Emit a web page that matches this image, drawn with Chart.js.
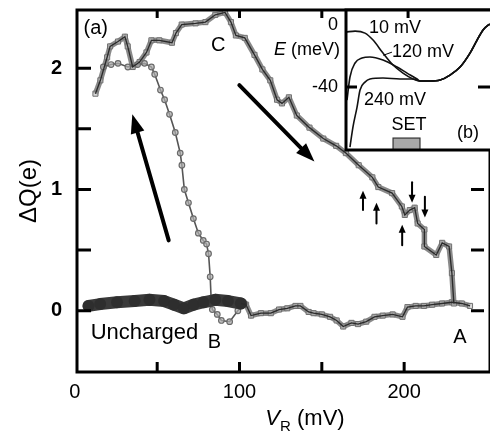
<!DOCTYPE html>
<html><head><meta charset="utf-8">
<script src="https://cdn.jsdelivr.net/npm/chart.js@4.4.1/dist/chart.umd.min.js"></script>
<style>
body{margin:0;background:#fff}
#wrap{position:relative;width:490px;height:434px;overflow:hidden}
canvas{position:absolute}
#main{left:0;top:0}
#inset{left:260px;top:0}
</style></head>
<body><div id="wrap"><canvas id="main" width="490" height="434"></canvas><canvas id="inset" width="230" height="160"></canvas></div>
<script>
const F = '"Liberation Sans", Arial, Helvetica, sans-serif';

// ---------- main panel (a) data ----------
const xTickLabels = [0, 100, 200];
const xTickMarks = [50, 100, 150, 200];
const yTickLabels = [0, 1, 2];
const yTickMarks = [0, 0.5, 1, 1.5, 2];

// uncharged trace (dark)
const unchargedV = [8.3, 15.4, 25.6, 36.3, 45.3, 54.2, 60.2, 66.2, 72.1, 78.1, 85.3, 93.0, 100.8];
const unchargedQ = [0.04, 0.055, 0.07, 0.08, 0.09, 0.08, 0.05, 0.02, 0.05, 0.07, 0.09, 0.08, 0.06];

// baseline continued (gray squares) up to A
const baseV = [101, 104, 107, 113, 119, 124, 129, 134, 137, 142, 145, 150, 155, 159, 163, 168, 172, 177, 182, 187, 193, 199, 202, 207, 212, 217, 223, 229, 235, 240];
const baseQ = [0.06, 0.05, -0.04, -0.02, -0.02, 0.01, 0.02, 0.04, 0.04, -0.01, -0.02, -0.03, -0.05, -0.08, -0.13, -0.10, -0.11, -0.09, -0.05, -0.04, -0.03, -0.05, 0.03, 0.04, 0.04, 0.05, 0.06, 0.07, 0.06, 0.04];

// charging branch A -> C -> left end (squares)
const branchV = [12.5, 15.5, 19.6, 21.4, 26.2, 30.4, 32.1, 35.1, 39.3, 43.5, 46.5, 51.3, 59.0, 61.4, 64.9, 73.3, 79.3, 85.3, 91.2, 94.8, 97.8, 103.2, 109.1, 113.9, 118.7, 122.8, 125.8, 130.0, 134.8, 142.5, 150.9, 158.7, 164.6, 172.4, 180.7, 184.3, 192.7, 198.6, 200.4, 203.4, 206.4, 208.2, 212.3, 212.3, 219.5, 223.1, 227.3, 229.0, 230.2];
const branchQ = [1.79, 1.90, 2.09, 2.18, 2.22, 2.26, 2.18, 2.01, 2.05, 2.13, 2.23, 2.23, 2.21, 2.29, 2.36, 2.37, 2.38, 2.44, 2.46, 2.38, 2.27, 2.25, 2.11, 1.99, 1.90, 1.74, 1.71, 1.76, 1.61, 1.51, 1.42, 1.36, 1.30, 1.20, 1.10, 1.02, 0.97, 0.86, 0.79, 0.83, 0.85, 0.72, 0.67, 0.53, 0.46, 0.56, 0.53, 0.31, 0.06];

// return branch (circles) down to B
const returnV = [17.3, 22, 26.2, 32.2, 38.1, 42.3, 46.5, 48.5, 52, 54.5, 57.5, 61, 64, 65, 66.5, 69, 72, 75, 78, 80, 81.2, 82.2, 82.8, 83.5, 86.5, 89.0, 94.0, 99.0, 103.0];
const returnQ = [2.01, 2.03, 2.04, 2.01, 2.03, 2.04, 2.01, 1.95, 1.82, 1.74, 1.62, 1.47, 1.30, 1.20, 1.00, 0.89, 0.76, 0.64, 0.58, 0.55, 0.47, 0.28, 0.09, 0.01, -0.03, -0.08, -0.09, 0.00, 0.06];

// annotations (data coordinates)
const labelTexts = ['(a)', 'C', 'B', 'A', 'Uncharged'];
const labelV = [12.7, 87.0, 84.8, 233.8, 42.3];
const labelQ = [2.33, 2.19, -0.26, -0.22, -0.18];
const bigArrows = [[57.0, 0.58, 34.9, 1.62], [99.9, 1.86, 145.5, 1.23]];
const smallArrows = [[175.0, 0.83, 175.0, 0.99], [183.2, 0.72, 183.2, 0.89], [198.8, 0.54, 198.8, 0.71], [204.8, 1.06, 204.8, 0.89], [212.6, 0.94, 212.6, 0.77]];

// ---------- inset (b) data ----------
const insetTickLabels = [0, -40];
const insetRightU = [67.7, 75.8, 83.8, 91.9, 99.9, 105.6, 110.4, 114.5, 116];
const insetRightE = [-36.1, -35.5, -32.3, -27.1, -18.1, -9.7, -3.2, 0, 0.5];
const curve10U = [0, 7.3, 15.3, 21.8, 29.8, 37.9, 45.9, 54.0, 59.6];
const curve10E = [-4.5, -3.9, -5.2, -9.7, -18.1, -25.8, -31.0, -34.8, -36.1];
const curve120U = [0.8, 3.2, 7.3, 12.9, 19.3, 29.8, 41.1, 49.2, 57.2, 59.6];
const curve120E = [-48.4, -33.5, -24.5, -21.3, -20.6, -22.6, -27.1, -31.0, -34.8, -36.1];
const curve240U = [3.2, 5.6, 8.9, 11.3, 15.3, 19.3, 29.8, 43.5, 54.0, 59.6];
const curve240E = [-78.7, -65.8, -52.9, -41.9, -36.8, -34.8, -34.2, -34.8, -34.8, -36.1];
const insetTexts = ['10 mV', '120 mV', '240 mV', 'SET', '(b)'];
const insetTextU = [39.5, 62.1, 39.5, 50.8, 98.3];
const insetTextE = [-1.9, -17.4, -48.4, -64.5, -69.7];
const setBlockU = [37.9, 59.6];
const setBlockE = [-72.9, -80.6];

const zip = (a, b) => a.map((v, i) => ({x: v, y: b[i]}));
const noPad = s => { s.paddingTop = 0; s.paddingBottom = 0; s.paddingLeft = 0; s.paddingRight = 0; };

function arrow(ctx, x1, y1, x2, y2, w, hl, hw) {
  const ang = Math.atan2(y2 - y1, x2 - x1);
  const bx = x2 - hl * Math.cos(ang), by = y2 - hl * Math.sin(ang);
  ctx.lineWidth = w; ctx.lineCap = 'round';
  ctx.beginPath(); ctx.moveTo(x1, y1); ctx.lineTo(bx, by); ctx.stroke();
  ctx.beginPath();
  ctx.moveTo(x2, y2);
  ctx.lineTo(bx + hw / 2 * Math.sin(ang), by - hw / 2 * Math.cos(ang));
  ctx.lineTo(bx - hw / 2 * Math.sin(ang), by + hw / 2 * Math.cos(ang));
  ctx.closePath(); ctx.fill();
}

const mainDecor = {
  id: 'mainDecor',
  afterDatasetsDraw(chart) {
    const ctx = chart.ctx;
    ctx.save();
    chart.data.datasets.forEach((ds, i) => {
      if (!ds.centerLine) return;
      const pts = chart.getDatasetMeta(i).data;
      ctx.strokeStyle = ds.centerLine; ctx.lineWidth = 1.3;
      ctx.beginPath();
      pts.forEach((p, k) => k ? ctx.lineTo(p.x, p.y) : ctx.moveTo(p.x, p.y));
      ctx.stroke();
    });
    ctx.restore();
  },
  afterDraw(chart) {
    const {ctx, chartArea: a, scales: {x, y}} = chart;
    ctx.save();
    ctx.strokeStyle = '#000'; ctx.fillStyle = '#000';
    ctx.lineWidth = 3;
    ctx.strokeRect(a.left, a.top, a.right - a.left + 6, a.bottom - a.top);
    ctx.beginPath();
    xTickMarks.forEach(v => {
      const px = x.getPixelForValue(v);
      ctx.moveTo(px, a.bottom); ctx.lineTo(px, a.bottom - 10);
      ctx.moveTo(px, a.top); ctx.lineTo(px, a.top + 8);
    });
    yTickMarks.forEach(q => {
      const py = y.getPixelForValue(q);
      ctx.moveTo(a.left, py); ctx.lineTo(a.left + 14, py);
      ctx.moveTo(a.right, py); ctx.lineTo(a.right - 13, py);
    });
    ctx.stroke();
    // labels
    ctx.textAlign = 'center'; ctx.textBaseline = 'middle';
    labelTexts.forEach((t, i) => {
      ctx.font = (t === 'Uncharged' ? '22px ' : '20px ') + F;
      ctx.fillText(t, x.getPixelForValue(labelV[i]), y.getPixelForValue(labelQ[i]));
    });
    // arrows
    bigArrows.forEach(r => arrow(ctx, x.getPixelForValue(r[0]), y.getPixelForValue(r[1]), x.getPixelForValue(r[2]), y.getPixelForValue(r[3]), 4, 19, 14));
    smallArrows.forEach(r => arrow(ctx, x.getPixelForValue(r[0]), y.getPixelForValue(r[1]), x.getPixelForValue(r[2]), y.getPixelForValue(r[3]), 2, 8, 7));
    // x axis title V_R (mV)
    ctx.textAlign = 'left'; ctx.textBaseline = 'alphabetic';
    const cx = 305, base = 425;
    const p1 = 'V', p2 = 'R', p3 = ' (mV)';
    ctx.font = 'italic 22px ' + F; const w1 = ctx.measureText(p1).width;
    ctx.font = '15px ' + F; const w2 = ctx.measureText(p2).width;
    ctx.font = '22px ' + F; const w3 = ctx.measureText(p3).width;
    let sx = cx - (w1 + w2 + w3) / 2;
    ctx.font = 'italic 22px ' + F; ctx.fillText(p1, sx, base); sx += w1;
    ctx.font = '15px ' + F; ctx.fillText(p2, sx, base + 6); sx += w2;
    ctx.font = '22px ' + F; ctx.fillText(p3, sx, base);
    ctx.restore();
  }
};

new Chart(document.getElementById('main'), {
  type: 'scatter',
  data: {
    datasets: [
      {label: 'Uncharged', data: zip(unchargedV, unchargedQ), showLine: true, borderColor: '#3a3a3a', borderWidth: 12,
       borderJoinStyle: 'round', borderCapStyle: 'round',
       pointStyle: 'circle', pointRadius: 6, pointBackgroundColor: 'rgba(45,45,45,0.9)', pointBorderWidth: 0},
      {label: 'return', data: zip(returnV, returnQ), showLine: true, borderColor: '#555', borderWidth: 1.6,
       pointStyle: 'circle', pointRadius: 2.8, pointBackgroundColor: 'rgba(175,175,175,0.7)', pointBorderColor: '#6a6a6a', pointBorderWidth: 1.2},
      {label: 'branch', data: zip(branchV, branchQ), showLine: true, borderColor: 'rgba(125,125,125,0.9)', borderWidth: 5.5,
       borderJoinStyle: 'round',
       pointStyle: 'rect', pointRadius: 3.6, pointBackgroundColor: 'rgba(190,190,190,0.6)', pointBorderColor: '#707070', pointBorderWidth: 1, centerLine: '#2a2a2a'},
      {label: 'baseline', data: zip(baseV, baseQ), showLine: true, borderColor: 'rgba(125,125,125,0.9)', borderWidth: 5.5,
       borderJoinStyle: 'round',
       pointStyle: 'rect', pointRadius: 3.6, pointBackgroundColor: 'rgba(190,190,190,0.6)', pointBorderColor: '#707070', pointBorderWidth: 1, centerLine: '#2a2a2a'}
    ]
  },
  options: {
    responsive: false, animation: false, devicePixelRatio: 1,
    layout: {padding: {top: 10, right: 0, left: 0, bottom: 0}},
    plugins: {legend: {display: false}, tooltip: {enabled: false}},
    scales: {
      x: {type: 'linear', position: 'bottom', min: 1.3, max: 248.5,
          afterBuildTicks: s => { s.ticks = xTickLabels.map(v => ({value: v})); },
          afterFit: s => { s.height = 62; noPad(s); },
          grid: {display: false, drawTicks: false}, border: {display: false},
          ticks: {autoSkip: false, maxRotation: 0, color: '#000', padding: 8, font: {family: F, size: 20}}},
      y: {type: 'linear', min: -0.505, max: 2.48,
          afterBuildTicks: s => { s.ticks = yTickLabels.map(v => ({value: v})); },
          afterFit: s => { s.width = 77; noPad(s); },
          grid: {display: false, drawTicks: false}, border: {display: false},
          ticks: {autoSkip: false, color: '#000', padding: 15, font: {family: F, size: 20, weight: 'bold'}},
          title: {display: true, text: 'ΔQ(e)', color: '#000', padding: {top: 15, bottom: 0}, font: {family: F, size: 24}}}
    }
  },
  plugins: [mainDecor]
});

const insetDecor = {
  id: 'insetDecor',
  beforeDatasetsDraw(chart) {
    const {ctx, chartArea: a} = chart;
    ctx.save(); ctx.fillStyle = '#fff';
    ctx.fillRect(a.left, a.top - 1, a.right - a.left, a.bottom - a.top + 1);
    ctx.restore();
  },
  afterDraw(chart) {
    const {ctx, chartArea: a, scales: {x, y}} = chart;
    ctx.save();
    // SET block
    const bx1 = x.getPixelForValue(setBlockU[0]), bx2 = x.getPixelForValue(setBlockU[1]);
    const by1 = y.getPixelForValue(setBlockE[0]), by2 = y.getPixelForValue(setBlockE[1]);
    ctx.fillStyle = '#a9a9a9'; ctx.fillRect(bx1, by1, bx2 - bx1, by2 - by1);
    ctx.strokeStyle = '#333'; ctx.lineWidth = 1.2; ctx.strokeRect(bx1, by1, bx2 - bx1, by2 - by1);
    // frame
    ctx.strokeStyle = '#000'; ctx.lineWidth = 3;
    ctx.strokeRect(a.left, a.top, a.right - a.left + 6, a.bottom - a.top);
    ctx.beginPath();
    const ty = y.getPixelForValue(-40);
    ctx.moveTo(a.left, ty); ctx.lineTo(a.left + 11, ty);
    ctx.moveTo(a.right, ty); ctx.lineTo(a.right - 12, ty);
    const tx = x.getPixelForValue(50);
    ctx.moveTo(tx, a.top); ctx.lineTo(tx, a.top + 8);
    ctx.stroke();
    // leader line to 120 mV label
    ctx.lineWidth = 1; ctx.beginPath();
    ctx.moveTo(x.getPixelForValue(30), y.getPixelForValue(-19.5));
    ctx.lineTo(x.getPixelForValue(37), y.getPixelForValue(-17.5)); ctx.stroke();
    // texts
    ctx.fillStyle = '#000'; ctx.textAlign = 'center'; ctx.textBaseline = 'middle';
    ctx.font = '18px ' + F;
    insetTexts.forEach((t, i) => ctx.fillText(t, x.getPixelForValue(insetTextU[i]), y.getPixelForValue(insetTextE[i])));
    // E (meV) label
    ctx.textAlign = 'left';
    ctx.font = 'italic 18px ' + F; const we = ctx.measureText('E').width;
    ctx.font = '18px ' + F; const wr = ctx.measureText(' (meV)').width;
    const right = a.left - 6, cy = y.getPixelForValue(-16.1);
    ctx.font = 'italic 18px ' + F; ctx.fillText('E', right - we - wr, cy);
    ctx.font = '18px ' + F; ctx.fillText(' (meV)', right - wr, cy);
    ctx.restore();
  }
};

const curveStyle = {showLine: true, borderColor: '#111', borderWidth: 1.6, pointRadius: 0, cubicInterpolationMode: 'monotone'};
new Chart(document.getElementById('inset'), {
  type: 'scatter',
  data: {
    datasets: [
      Object.assign({label: '10 mV', data: zip(curve10U.concat(insetRightU), curve10E.concat(insetRightE))}, curveStyle),
      Object.assign({label: '120 mV', data: zip(curve120U.concat(insetRightU), curve120E.concat(insetRightE))}, curveStyle),
      Object.assign({label: '240 mV', data: zip(curve240U.concat(insetRightU), curve240E.concat(insetRightE))}, curveStyle)
    ]
  },
  options: {
    responsive: false, animation: false, devicePixelRatio: 1,
    layout: {padding: {top: 10, bottom: 10, left: 0, right: 0}},
    plugins: {legend: {display: false}, tooltip: {enabled: false}},
    scales: {
      x: {type: 'linear', min: 0, max: 116, display: false},
      y: {type: 'linear', min: -80.6, max: 9.7,
          afterBuildTicks: s => { s.ticks = insetTickLabels.map(v => ({value: v})); },
          afterFit: s => { s.width = 86; noPad(s); },
          grid: {display: false, drawTicks: false}, border: {display: false},
          ticks: {autoSkip: false, color: '#000', padding: 8, font: {family: F, size: 18}}}
    }
  },
  plugins: [insetDecor]
});
</script>
</body></html>
